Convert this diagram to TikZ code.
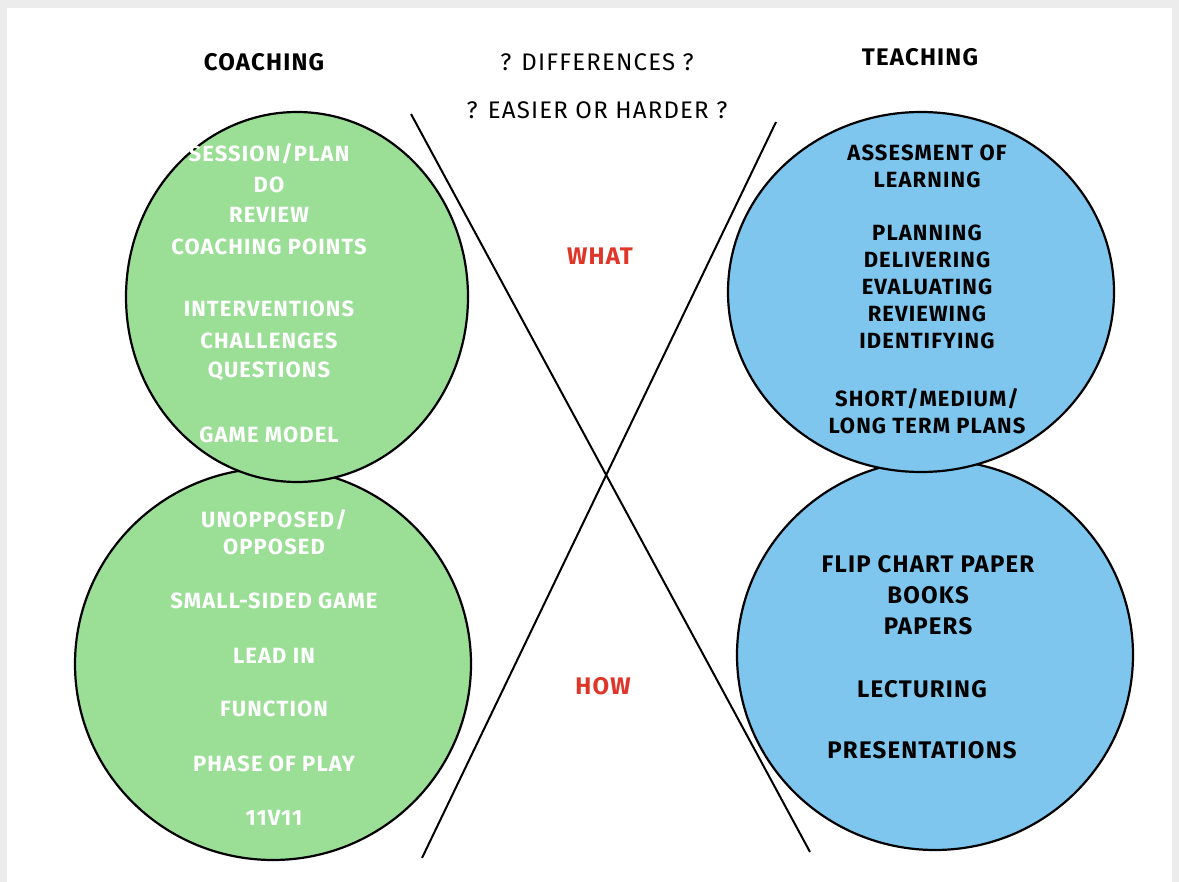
\documentclass[tikz,border=0pt]{standalone}
\usepackage{fontspec}
\setmainfont{Fira Sans}[LetterSpace=5]
\begin{document}
\begin{tikzpicture}[x=1pt,y=-1pt,
  t/.style={font=\fontsize{24}{30}\selectfont\bfseries, align=center, inner sep=0pt},
  s/.style={t, font=\fontsize{22}{27}\selectfont\bfseries},
  ws/.style={s, text=white},
  red/.style={t, text=rd},
  circ/.style={draw=black, line width=2.2pt}]
\definecolor{rd}{HTML}{E0362A}
\useasboundingbox (0,0) rectangle (1179,882);
\fill[gray!15] (0,0) rectangle (1179,882);
\fill[white] (7,8) rectangle (1172,882);
\definecolor{gr}{HTML}{9BDF97}
\definecolor{bl}{HTML}{7EC6EE}
\filldraw[circ, fill=gr] (273,664) ellipse (198 and 196);
\filldraw[circ, fill=gr] (297,297) ellipse (171 and 185);
\filldraw[circ, fill=bl] (935,655) ellipse (198 and 195);
\filldraw[circ, fill=bl] (921,292) ellipse (193 and 180);
\coordinate (a1) at (411,114); \coordinate (a2) at (810,852);
\coordinate (b1) at (776,122); \coordinate (b2) at (422,858);
\draw[line width=2pt] (a1) -- (a2);
\draw[line width=2pt] (b1) -- (b2);
\node[t] (c) at (264,62) {COACHING};
\node[t] (te) at (920,57) {TEACHING};
\node[t, font=\fontsize{24}{30}\selectfont] (d) at (597,62) {? DIFFERENCES ?};
\node[t, font=\fontsize{24}{30}\selectfont] (e) at (597,110) {? EASIER OR HARDER ?};
\node[red] (w) at (600,256) {WHAT};
\node[red] (h) at (603,686) {HOW};
\node[ws] (l1) at (269,154) {SESSION/PLAN};
\node[ws] (l2) at (269,185) {DO};
\node[ws] (l3) at (269,215) {REVIEW};
\node[ws] (l4) at (269,247) {COACHING POINTS};
\node[ws] (l5) at (269,309) {INTERVENTIONS};
\node[ws] (l6) at (269,341) {CHALLENGES};
\node[ws] (l7) at (269,371) {QUESTIONS};
\node[ws] (l8) at (269,435) {GAME MODEL};
\node[ws] (g2) at (274,532) {UNOPPOSED/\\OPPOSED};
\node[ws] (g3) at (274,601) {SMALL-SIDED GAME};
\node[ws] (g4) at (274,656) {LEAD IN};
\node[ws] (g5) at (274,709) {FUNCTION};
\node[ws] (g6) at (274,764) {PHASE OF PLAY};
\node[ws] (g7) at (274,818) {11V11};
\node[s] (b1t) at (927,166) {ASSESMENT OF\\LEARNING};
\node[s] (b2t) at (927,287) {PLANNING\\DELIVERING\\EVALUATING\\REVIEWING\\IDENTIFYING};
\node[s] (b3t) at (927,411) {SHORT/MEDIUM/\\LONG TERM PLANS};
\node[t, font=\fontsize{24}{31}\selectfont\bfseries] (b4t) at (928,595) {FLIP CHART PAPER\\BOOKS\\PAPERS};
\node[t] (b5t) at (922,689) {LECTURING};
\node[t] (b6t) at (922,750) {PRESENTATIONS};
\end{tikzpicture}
\end{document}
